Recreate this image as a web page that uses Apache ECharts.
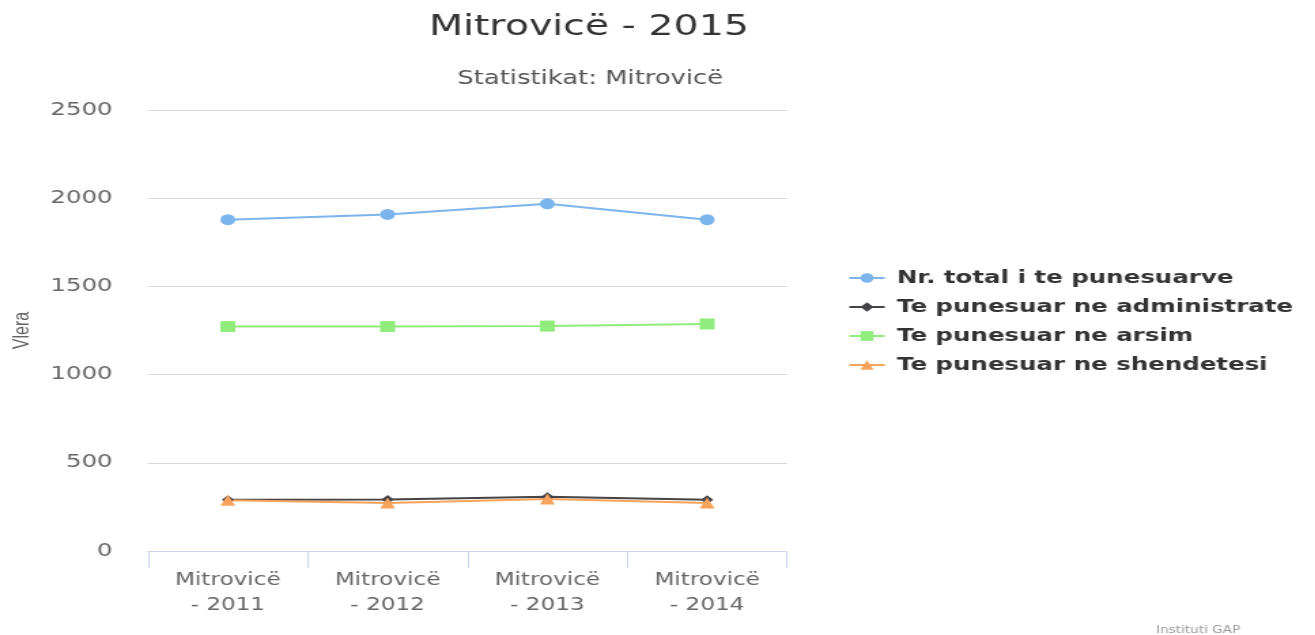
<!DOCTYPE html>
<html><head><meta charset="utf-8">
<script src="https://cdn.jsdelivr.net/npm/echarts@6/dist/echarts.min.js"></script>
<style>
html,body{margin:0;padding:0;background:#fff;overflow:hidden}
#wrap{width:1315px;height:635px;overflow:hidden}
#c{width:967px;height:635px;transform:scaleX(1.36);transform-origin:0 0}
</style>
</head><body><div id="wrap"><div id="c"></div></div>
<script>
const categories = ["Mitrovicë\n- 2011", "Mitrovicë\n- 2012", "Mitrovicë\n- 2013", "Mitrovicë\n- 2014"];
const seriesNames = ["Nr. total i te punesuarve", "Te punesuar ne administrate", "Te punesuar ne arsim", "Te punesuar ne shendetesi"];
const totalValues = [1878, 1908, 1968, 1878];
const adminValues = [290, 292, 308, 290];
const arsimValues = [1272, 1272, 1275, 1287];
const shendetesiValues = [288, 272, 295, 272];
const yTicks = [0, 500, 1000, 1500, 2000, 2500];

const F = 'DejaVu Sans';
const chart = echarts.init(document.getElementById('c'));
chart.setOption({
  backgroundColor: '#fff',
  animation: false,
  title: [
    {text: 'Mitrovicë - 2015', left: 428, top: 8, textAlign: 'center',
     textStyle: {fontFamily: F, fontSize: 29, fontWeight: 'normal', color: '#333'}},
    {text: 'Statistikat: Mitrovicë', left: 429, top: 65, textAlign: 'center',
     textStyle: {fontFamily: F, fontSize: 19, fontWeight: 'normal', color: '#555'}},
    {text: 'Instituti GAP', left: 845, top: 620,
     textStyle: {fontFamily: F, fontSize: 10, fontWeight: 'normal', color: '#999'}}
  ],
  legend: {
    orient: 'vertical', left: 618.5, top: 264, itemGap: 11, itemWidth: 26, itemHeight: 12,
    data: seriesNames,
    textStyle: {fontFamily: F, fontSize: 18, fontWeight: 'bold', color: '#333', padding: [0, 0, 0, 4]}
  },
  grid: {left: 108.8, right: 388.3, top: 110, bottom: 84},
  xAxis: {
    type: 'category', data: categories, boundaryGap: true,
    axisLine: {lineStyle: {color: '#ccd6eb', width: 1}},
    axisTick: {show: true, length: 17, lineStyle: {color: '#ccd6eb'}},
    axisLabel: {fontFamily: F, fontSize: 17, color: '#666', lineHeight: 25, margin: 17}
  },
  yAxis: {
    type: 'value', min: yTicks[0], max: yTicks[yTicks.length-1], interval: 500,
    name: 'Vlera', nameLocation: 'middle', nameGap: 84, nameRotate: 90,
    nameTextStyle: {fontFamily: 'Liberation Sans', fontSize: 16, color: '#666'},
    axisLine: {show: false}, axisTick: {show: false},
    splitLine: {lineStyle: {color: '#d8d8d8', width: 1}},
    axisLabel: {fontFamily: F, fontSize: 18, color: '#666', margin: 26,
      formatter: function (v) { return String(v); }}
  },
  series: [
    {name: seriesNames[0], type: 'line', data: totalValues, symbol: 'circle', symbolSize: 11,
     itemStyle: {color: '#7cb5ec'}, lineStyle: {color: '#7cb5ec', width: 2}},
    {name: seriesNames[1], type: 'line', data: adminValues, symbol: 'diamond', symbolSize: 9,
     itemStyle: {color: '#434348'}, lineStyle: {color: '#434348', width: 2}},
    {name: seriesNames[2], type: 'line', data: arsimValues, symbol: 'rect', symbolSize: 11,
     itemStyle: {color: '#90ed7d'}, lineStyle: {color: '#90ed7d', width: 2}},
    {name: seriesNames[3], type: 'line', data: shendetesiValues, symbol: 'triangle', symbolSize: 11,
     itemStyle: {color: '#f7a35c'}, lineStyle: {color: '#f7a35c', width: 2}}
  ]
});
</script></body></html>
